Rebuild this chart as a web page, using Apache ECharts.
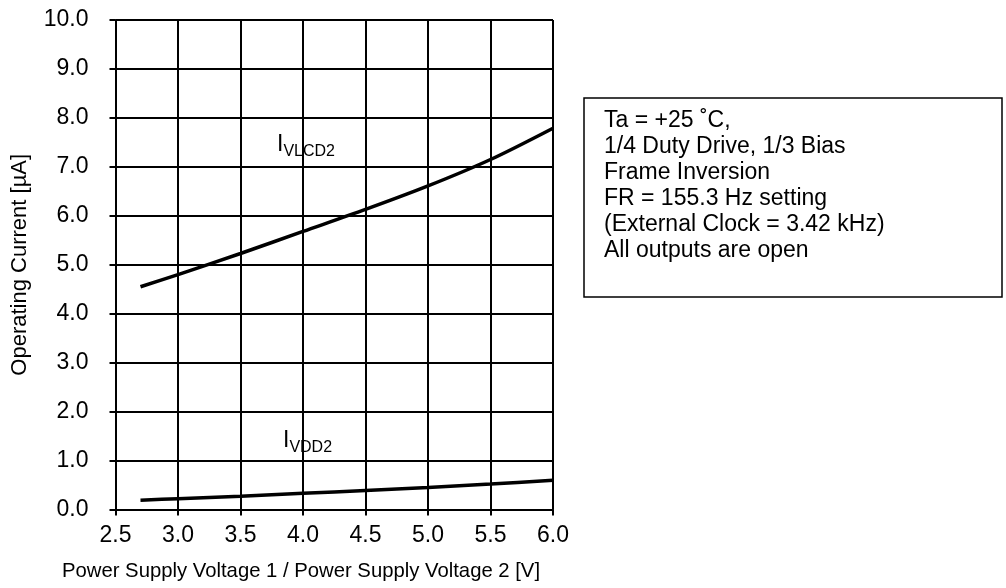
<!DOCTYPE html>
<html><head><meta charset="utf-8">
<script src="https://cdn.jsdelivr.net/npm/echarts@6/dist/echarts.min.js"></script>
<style>html,body{margin:0;padding:0;background:#fff}#c{width:1006px;height:588px}</style>
</head><body><div id="c"></div>
<script>
const voltages = [2.7, 3.0, 3.5, 4.0, 4.5, 5.0, 5.5, 6.0];
const iVLCD2 = [4.55, 4.80, 5.23, 5.68, 6.13, 6.61, 7.15, 7.79];
const iVDD2 = [0.19, 0.22, 0.27, 0.33, 0.39, 0.45, 0.52, 0.60];
const noteLines = ['Ta = +25 \u02DAC,', '1/4 Duty Drive, 1/3 Bias', 'Frame Inversion', 'FR = 155.3 Hz setting', '(External Clock = 3.42 kHz)', 'All outputs are open'];
const FONT = 'Liberation Sans, Arial, sans-serif';
const chart = echarts.init(document.getElementById('c'));
const pair = (xs, ys) => xs.map((x, i) => [x, ys[i]]);
chart.setOption({
  animation: false,
  grid: {left: 115.5, top: 20, right: 453, bottom: 78.5},
  xAxis: {
    type: 'value', min: 2.5, max: 6.0, interval: 0.5,
    axisLine: {show: true, lineStyle: {color: '#000', width: 2}},
    axisTick: {show: true, length: 6, lineStyle: {color: '#000', width: 2}},
    axisLabel: {color: '#000', fontSize: 23, fontFamily: FONT, margin: 15, formatter: v => v.toFixed(1)},
    splitLine: {show: true, lineStyle: {color: '#000', width: 2}}
  },
  yAxis: {
    type: 'value', min: 0, max: 10, interval: 1,
    name: 'Operating Current [\u00B5A]', nameLocation: 'middle', nameGap: 85,
    nameTextStyle: {color: '#000', fontSize: 22, fontFamily: FONT},
    axisLine: {show: true, lineStyle: {color: '#000', width: 2}},
    axisTick: {show: true, length: 6, lineStyle: {color: '#000', width: 2}},
    axisLabel: {color: '#000', fontSize: 23, fontFamily: FONT, margin: 27, formatter: v => v.toFixed(1)},
    splitLine: {show: true, lineStyle: {color: '#000', width: 2}}
  },
  series: [
    {type: 'line', data: pair(voltages, iVLCD2), smooth: 0.3, symbol: 'none', lineStyle: {color: '#000', width: 3.5}},
    {type: 'line', data: pair(voltages, iVDD2), smooth: 0.3, symbol: 'none', lineStyle: {color: '#000', width: 3.5}}
  ],
  graphic: [
    {type: 'text', left: 62, top: 561, style: {text: 'Power Supply Voltage 1 / Power Supply Voltage 2 [V]', fill: '#000', font: '20.3px ' + FONT}},
    {type: 'rect', shape: {x: 584, y: 98, width: 418, height: 199}, style: {fill: '#fff', stroke: '#000', lineWidth: 1.5}},
    {type: 'text', left: 604, top: 108, style: {text: noteLines.join('\n'), fill: '#000', font: '23px ' + FONT, lineHeight: 26}},
    {type: 'text', left: 277, top: 133, style: {text: '{a|I}{b|VLCD2}', rich: {a: {fontSize: 23, fontFamily: FONT, fill: '#000', verticalAlign: 'bottom'}, b: {fontSize: 16, fontFamily: FONT, fill: '#000', verticalAlign: 'bottom', padding: [0,0,-4,0]}}}},
    {type: 'text', left: 283, top: 429, style: {text: '{a|I}{b|VDD2}', rich: {a: {fontSize: 23, fontFamily: FONT, fill: '#000', verticalAlign: 'bottom'}, b: {fontSize: 16, fontFamily: FONT, fill: '#000', verticalAlign: 'bottom', padding: [0,0,-4,0]}}}}
  ]
});
</script></body></html>
